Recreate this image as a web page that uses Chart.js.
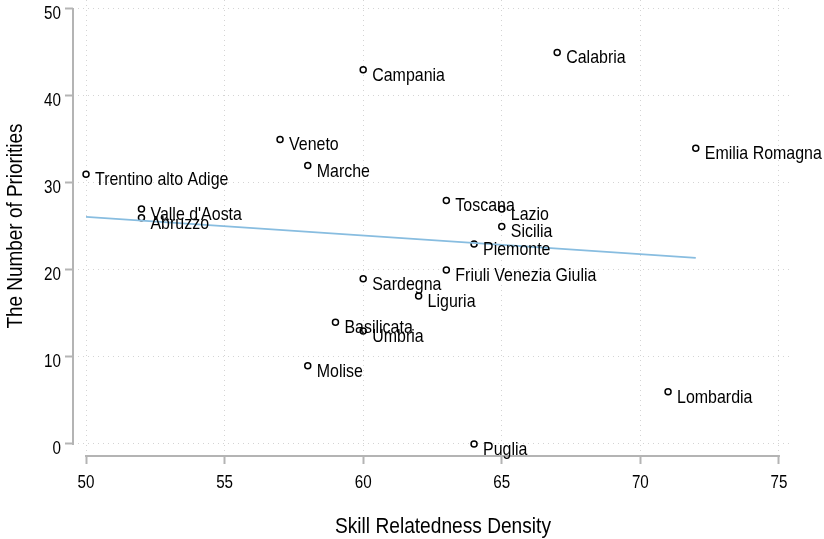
<!DOCTYPE html>
<html>
<head>
<meta charset="utf-8">
<script src="https://cdn.jsdelivr.net/npm/chart.js@4.4.1/dist/chart.umd.min.js"></script>
<style>
  html, body { margin: 0; padding: 0; background: #fff; }
  #wrap { width: 824px; height: 539px; position: relative; }
</style>
</head>
<body>
<div id="wrap"><canvas id="chart"></canvas></div>
<script>
// data
const regions = ['Trentino alto Adige', "Valle d'Aosta", 'Abruzzo', 'Veneto', 'Marche',
  'Campania', 'Calabria', 'Emilia Romagna', 'Toscana', 'Lazio', 'Sicilia', 'Piemonte',
  'Friuli Venezia Giulia', 'Sardegna', 'Liguria', 'Basilicata', 'Umbria', 'Molise',
  'Lombardia', 'Puglia'];
const density    = [50, 52, 52, 57, 58, 60, 67, 72, 63, 65, 65, 64, 63, 60, 62, 59, 60, 58, 71, 64];
const priorities = [31, 27, 26, 35, 32, 43, 45, 34, 28, 27, 25, 23, 20, 19, 17, 14, 13, 9, 6, 0];

// fitted line (end points)
const fitX = [50, 72];
const fitY = [26.1, 21.4];

const xTicks = [50, 55, 60, 65, 70, 75];
const yTicks = [0, 10, 20, 30, 40, 50];

const FONT = "'Liberation Sans', Arial, Helvetica, sans-serif";
const AXIS_COL = '#b4b4b4';
const TXT_COL = '#000';

// narrow helvetica look: draw Liberation Sans squeezed horizontally
function txt(ctx, s, x, y, size, sx, align) {
  ctx.save();
  ctx.font = size + 'px ' + FONT;
  ctx.fillStyle = TXT_COL;
  ctx.textAlign = align || 'left';
  ctx.textBaseline = 'alphabetic';
  ctx.translate(x, y);
  ctx.scale(sx, 1);
  ctx.fillText(s, 0, 0);
  ctx.restore();
}

const decor = {
  id: 'decor',
  afterDatasetsDraw(chart) {
    const { ctx, chartArea, scales: { x, y } } = chart;
    ctx.save();
    // axis lines, only over the tick range
    ctx.strokeStyle = AXIS_COL;
    ctx.lineWidth = 2;
    ctx.beginPath();
    ctx.moveTo(chartArea.left, y.getPixelForValue(50) - 1);
    ctx.lineTo(chartArea.left, y.getPixelForValue(0) + 1);
    ctx.moveTo(x.getPixelForValue(50) - 1, chartArea.bottom);
    ctx.lineTo(x.getPixelForValue(75) + 1, chartArea.bottom);
    ctx.stroke();
    ctx.restore();

    // tick labels
    x.ticks.forEach(t => txt(ctx, String(t.value), x.getPixelForValue(t.value), 488, 19, 0.8, 'center'));
    y.ticks.forEach(t => txt(ctx, String(t.value), 61, y.getPixelForValue(t.value) + 10, 19, 0.8, 'right'));

    // point labels
    const meta = chart.getDatasetMeta(1);
    meta.data.forEach((pt, i) => txt(ctx, regions[i], pt.x + 9, pt.y + 11, 19, 0.84, 'left'));

    // axis titles
    txt(ctx, 'Skill Relatedness Density', 443, 533, 22, 0.87, 'center');
    ctx.save();
    ctx.translate(22, 226);
    ctx.rotate(-Math.PI / 2);
    txt(ctx, 'The Number of Priorities', 0, 0, 22, 0.86, 'center');
    ctx.restore();
  }
};

new Chart(document.getElementById('chart'), {
  type: 'scatter',
  data: {
    datasets: [
      {
        type: 'line',
        data: fitX.map((v, i) => ({ x: v, y: fitY[i] })),
        borderColor: '#88bde0',
        borderWidth: 1.8,
        pointRadius: 0,
        fill: false
      },
      {
        data: density.map((v, i) => ({ x: v, y: priorities[i] })),
        pointStyle: 'circle',
        pointRadius: 3,
        pointBorderWidth: 1.5,
        pointBorderColor: '#000',
        pointBackgroundColor: '#fff'
      }
    ]
  },
  options: {
    responsive: true,
    maintainAspectRatio: false,
    animation: false,
    layout: { autoPadding: false, padding: { top: 0, right: 34, left: 0, bottom: 0 } },
    plugins: { legend: { display: false }, tooltip: { enabled: false } },
    scales: {
      x: {
        type: 'linear',
        min: 49.53, max: 75.4,
        afterBuildTicks: s => { s.ticks = xTicks.map(v => ({ value: v })); },
        afterFit: s => { s.height = 83; s.paddingLeft = 0; s.paddingRight = 0; },
        border: { display: false, dash: [1, 4] },
        grid: { color: '#d4d4d4', lineWidth: 1, tickLength: 8, tickColor: AXIS_COL, tickWidth: 2, tickBorderDash: [] },
        ticks: { display: false }
      },
      y: {
        type: 'linear',
        min: -1.38, max: 51.03,
        afterBuildTicks: s => { s.ticks = yTicks.map(v => ({ value: v })); },
        afterFit: s => { s.width = 73; s.paddingTop = 0; s.paddingBottom = 0; },
        border: { display: false, dash: [1, 4] },
        grid: { color: '#d4d4d4', lineWidth: 1, tickLength: 8, tickColor: AXIS_COL, tickWidth: 2, tickBorderDash: [] },
        ticks: { display: false }
      }
    }
  },
  plugins: [decor]
});
</script>
</body>
</html>
